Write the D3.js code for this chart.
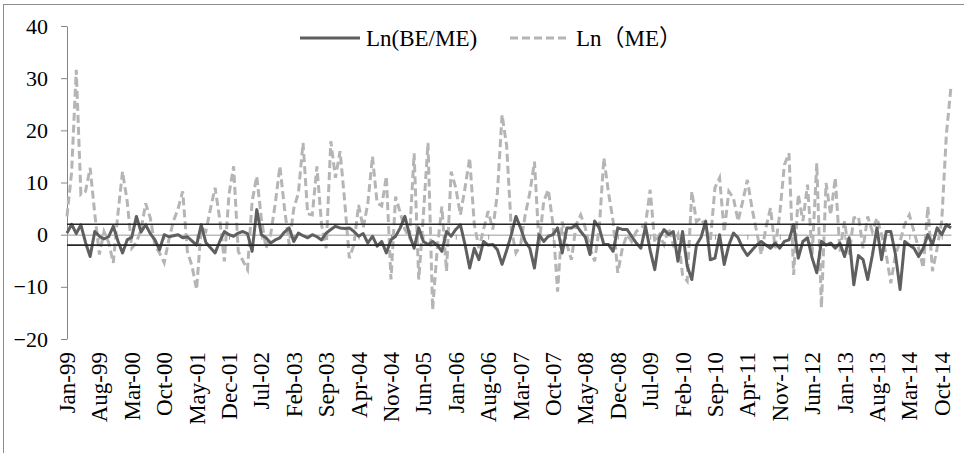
<!DOCTYPE html>
<html>
<head>
<meta charset="utf-8">
<script src="https://cdn.jsdelivr.net/npm/d3@7"></script>
<style>
  body { margin: 0; background: #fff; }
  svg { display: block; font-family: "Liberation Serif", "Times New Roman", serif; }
</style>
</head>
<body>
<div id="chartContainer"></div>
<script>
// monthly categories Jan-99 .. Dec-14
const monthNames = ['Jan','Feb','Mar','Apr','May','Jun','Jul','Aug','Sep','Oct','Nov','Dec'];
const years = ['99','00','01','02','03','04','05','06','07','08','09','10','11','12','13','14'];
const categories = [];
years.forEach(yy => monthNames.forEach(m => categories.push(m + '-' + yy)));

const tickLabels = ['Jan-99','Aug-99','Mar-00','Oct-00','May-01','Dec-01','Jul-02','Feb-03','Sep-03','Apr-04',
  'Nov-04','Jun-05','Jan-06','Aug-06','Mar-07','Oct-07','May-08','Dec-08','Jul-09','Feb-10',
  'Sep-10','Apr-11','Nov-11','Jun-12','Jan-13','Aug-13','Mar-14','Oct-14'];

const yTicks = [-20, -10, 0, 10, 20, 30, 40];
const bandLimits = [2, -2];

const seriesNames = ['Ln(BE/ME)', 'Ln（ME）'];

const lnBEME = [
  0.3, 2.0, 0.2, 1.9, -1.5, -4.2, 0.6, -0.3, -0.8, -0.4,
  1.6, -1.2, -3.5, -1.0, -0.5, 3.5, 0.5, 1.9, 0.2, -1.0,
  -2.9, 0.0, -0.4, -0.2, 0.0, -0.6, -0.4, -1.2, -2.0, 1.9,
  -1.5, -2.5, -3.5, -1.3, 0.6, 0.0, -0.3, 0.3, 0.6, 0.2,
  -3.2, 4.8, 0.0, -0.6, -1.6, -1.0, -0.6, 0.5, 1.3, -1.3,
  0.3, -0.2, -0.6, 0.0, -0.4, -1.0, 0.3, 1.0, 1.6, 1.3,
  1.2, 1.3, 0.6, -0.3, 0.2, -1.6, -0.3, -2.2, -1.3, -3.5,
  -1.0, -0.3, 1.3, 3.5, 0.0, -2.6, 1.3, -1.3, -1.9, -1.3,
  -2.0, -3.2, 0.6, -0.3, 1.0, 1.9, -1.9, -6.4, -2.6, -4.8,
  -1.3, -2.0, -1.9, -2.9, -5.7, -3.0, 0.0, 3.5, 1.3, -1.3,
  -2.6, -6.4, 0.0, -1.3, -0.3, 0.0, 1.3, -3.5, 1.3, 1.3,
  1.9, 0.6, -0.5, -3.8, 2.6, 1.3, -1.9, -1.9, -3.2, 1.3,
  1.0, 1.0, -0.3, -1.6, -2.6, 1.6, -3.0, -6.7, -0.6, 1.0,
  0.0, 0.6, -5.1, 0.6, -6.0, -8.6, -2.0, -0.5, 2.6, -4.8,
  -4.5, 0.0, -5.7, -2.0, 0.3, -0.6, -2.6, -4.0, -3.0, -2.0,
  -1.3, -2.0, -2.6, -1.6, -2.6, -1.3, -1.0, 1.9, -4.5, -1.3,
  -0.6, -4.5, -7.3, -1.3, -2.0, -1.6, -2.6, -1.6, -4.2, -0.6,
  -9.6, -4.0, -4.8, -8.6, -4.0, 1.3, -4.8, 0.6, 0.6, -3.8,
  -10.5, -1.3, -2.0, -2.6, -4.2, -2.6, 0.0, -1.9, 1.3, 0.0,
  1.9, 1.3
];

const lnME = [
  3.5, 12.0, 31.6, 7.7, 8.3, 12.8, 4.0, -3.8, 0.6, -1.5,
  -5.4, 4.0, 12.1, 6.4, -2.6, -1.5, 1.0, 6.0, 3.2, -2.0,
  -3.5, -5.4, -1.0, 2.6, 5.0, 8.3, -3.2, -6.0, -10.5, 1.3,
  0.6, 5.0, 9.0, 3.0, -5.1, 7.7, 13.1, -3.2, -5.0, -6.7,
  6.4, 11.2, 3.0, -2.6, 0.0, 6.0, 13.1, 5.0, -1.9, 5.0,
  8.0, 17.6, 4.0, 3.8, 13.1, 1.9, -2.6, 17.9, 10.9, 16.0,
  6.4, -4.5, -1.9, 5.7, 1.3, 6.0, 15.0, 6.1, 5.5, 11.2,
  -8.6, 7.3, 4.2, 1.0, -0.6, 15.6, -8.6, 3.8, 17.6, -14.4,
  -2.6, 5.4, -7.0, 12.1, 9.0, 3.8, 9.0, 14.7, 2.0, -2.6,
  1.0, 4.5, 1.0, 8.0, 23.0, 17.0, 1.0, -3.5, -2.0, 3.8,
  8.0, 14.0, -2.0, 6.4, 8.6, 2.0, -10.9, 2.5, -1.9, -4.8,
  1.9, 3.8, 1.3, -2.6, -5.1, 1.3, 14.7, 8.0, 2.6, -7.3,
  -2.6, 0.0, -1.3, 0.6, 1.3, 2.0, 8.6, -1.5, 0.0, -1.9,
  1.3, -1.9, 0.0, -7.7, -8.9, 8.3, 2.5, 3.2, 1.3, -1.3,
  9.0, 10.9, 0.5, 8.3, 7.0, 2.6, 6.4, 10.5, 5.1, 0.6,
  -3.8, 1.3, 5.1, -2.6, 4.0, 13.4, 15.6, -7.7, 7.7, 2.6,
  9.6, -3.8, 13.7, -14.0, 9.9, 3.8, 10.9, -3.2, 2.6, -3.8,
  3.2, 3.5, -2.6, 3.5, 0.6, 3.2, 0.0, -3.8, -9.3, -3.8,
  -1.3, 2.0, 3.8, 0.6, -2.6, -6.4, 5.4, -7.0, -2.6, 2.6,
  19.2, 28.4
];

const width = 964;
const height = 453;
const plot = { left: 67, right: 951, top: 26, bottom: 339 };
const serif = '"Liberation Serif", "Times New Roman", serif';

const svg = d3.select('#chartContainer')
  .append('svg')
  .attr('width', width)
  .attr('height', height);

svg.append('rect')
  .attr('width', width)
  .attr('height', height)
  .attr('fill', '#fff');

// chart frame (right and bottom edges fall outside the picture)
svg.append('rect')
  .attr('x', 3.5)
  .attr('y', 4.5)
  .attr('width', 990)
  .attr('height', 480)
  .attr('fill', 'none')
  .attr('stroke', '#8c8c8c')
  .attr('stroke-width', 1);

const x = d3.scalePoint()
  .domain(categories)
  .range([plot.left, plot.right]);

const y = d3.scaleLinear()
  .domain([-20, 40])
  .range([plot.bottom, plot.top]);

// y axis
const yAxis = svg.append('g')
  .attr('transform', `translate(${plot.left},0)`)
  .attr('font-family', serif)
  .call(d3.axisLeft(y).tickValues(yTicks).tickSize(6).tickSizeOuter(0).tickPadding(13));
yAxis.attr('font-family', serif);
yAxis.select('.domain').attr('stroke', '#868686');
yAxis.selectAll('.tick line').attr('stroke', '#868686');
yAxis.selectAll('.tick text')
  .attr('font-family', serif)
  .attr('font-size', 22)
  .attr('fill', '#000');

// zero line with month ticks
const xAxis = svg.append('g')
  .attr('transform', `translate(0,${y(0)})`)
  .call(d3.axisBottom(x).tickValues(tickLabels).tickSize(5).tickSizeOuter(0).tickFormat(''));
xAxis.select('.domain').attr('stroke', '#9a9a9a');
xAxis.selectAll('.tick line').attr('stroke', '#9a9a9a');

// month labels at the bottom
const xLabels = svg.append('g')
  .attr('transform', `translate(0,${plot.bottom})`)
  .call(d3.axisBottom(x).tickValues(tickLabels).tickSize(0));
xLabels.attr('font-family', serif);
xLabels.select('.domain').remove();
xLabels.selectAll('.tick text')
  .attr('font-family', serif)
  .attr('font-size', 23)
  .attr('fill', '#000')
  .attr('text-anchor', 'end')
  .attr('transform', 'rotate(-90)')
  .attr('x', -13)
  .attr('y', 0)
  .attr('dy', '0.33em');

const line = d3.line()
  .x((d, i) => x(categories[i]))
  .y(d => y(d));

svg.append('path')
  .datum(lnME)
  .attr('fill', 'none')
  .attr('stroke', '#b5b5b5')
  .attr('stroke-width', 3)
  .attr('stroke-dasharray', '8,4')
  .attr('d', line);

svg.append('path')
  .datum(lnBEME)
  .attr('fill', 'none')
  .attr('stroke', '#5f5f5f')
  .attr('stroke-width', 3)
  .attr('stroke-linejoin', 'round')
  .attr('d', line);

// +/-2 reference lines
svg.selectAll('.band')
  .data(bandLimits)
  .enter()
  .append('path')
  .attr('class', 'band')
  .attr('fill', 'none')
  .attr('stroke', '#262626')
  .attr('stroke-width', 1.6)
  .attr('d', v => line(categories.map(() => v)));

// legend
const legend = svg.append('g').attr('transform', 'translate(300,38)');
const legendItems = [
  { name: seriesNames[0], x: 0, color: '#5f5f5f', dash: null },
  { name: seriesNames[1], x: 210, color: '#b5b5b5', dash: '8,4' }
];
legendItems.forEach(item => {
  legend.append('line')
    .attr('x1', item.x).attr('x2', item.x + 60)
    .attr('y1', 0).attr('y2', 0)
    .attr('stroke', item.color)
    .attr('stroke-width', 3)
    .attr('stroke-dasharray', item.dash);
  legend.append('text')
    .attr('x', item.x + 66)
    .attr('y', 0)
    .attr('dy', '0.35em')
    .attr('font-family', '"Liberation Serif", "Noto Sans CJK SC", serif')
    .attr('font-size', 23)
    .attr('fill', '#000')
    .text(item.name);
});
</script>
</body>
</html>
